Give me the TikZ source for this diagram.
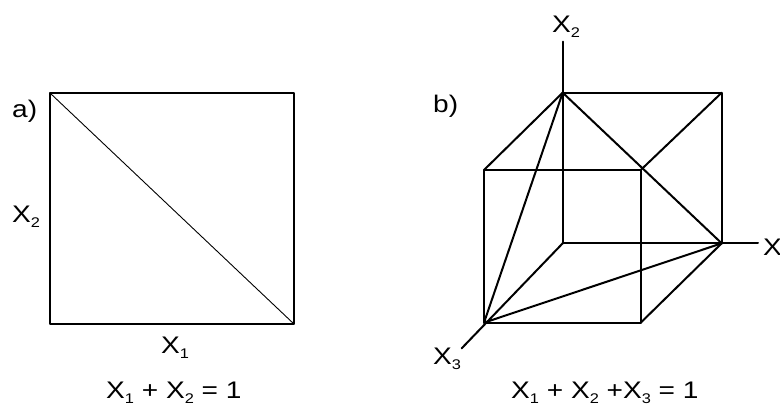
\documentclass[tikz,border=0pt]{standalone}
\usepackage{fontspec}
\setmainfont{Liberation Sans}[FakeStretch=1.17]
\newcommand\lsub[1]{\raisebox{-5pt}{\fontsize{14}{14}\selectfont #1}}
\begin{document}
\begin{tikzpicture}[x=1pt,y=-1pt,
  lbl/.style={font=\fontsize{24}{28}\selectfont, inner sep=0pt, anchor=base west},
  edge/.style={line width=2pt, line cap=round, line join=round},
  thinedge/.style={line width=0.9pt, line cap=round}]
\useasboundingbox (0,0) rectangle (780,405);
% ---- a) square
\coordinate (A) at (50,93);
\coordinate (B) at (294,93);
\coordinate (C) at (294,324);
\coordinate (D) at (50,324);
\draw[edge] (A) -- (B) -- (C) -- (D) -- cycle;
\draw[thinedge] (A) -- (C);
\node[lbl] (la) at (12,117) {a)};
\node[lbl] (x2a) at (12,222) {X\lsub{2}};
\node[lbl] (x1a) at (161,353) {X\lsub{1}};
\node[lbl] (eqa) at (106,398) {X\lsub{1} + X\lsub{2} = 1};
% ---- b) cube
\coordinate (O) at (562.7,243.3);
\coordinate (P2) at (562.7,92.7);
\coordinate (P1) at (721.7,243.3);
\coordinate (Q) at (721.7,92.7);
\coordinate (P3) at (484,322.7);
\coordinate (FTL) at (484,170);
\coordinate (FTR) at (640.7,170);
\coordinate (FBR) at (640.7,322.7);
\coordinate (E2) at (562.7,41.7);
\coordinate (E1) at (758,243.3);
\coordinate (E3) at (461.7,348.3);
% axes
\draw[edge] (O) -- (E2);
\draw[edge] (O) -- (E1);
\draw[edge] (O) -- (E3);
% front face
\draw[edge] (FTL) -- (FTR) -- (FBR) -- (P3) -- cycle;
% back edges
\draw[edge] (P2) -- (Q) -- (P1);
% depth edges
\draw[edge] (P2) -- (FTL);
\draw[edge] (Q) -- (FTR);
\draw[edge] (P1) -- (FBR);
% simplex triangle
\draw[edge] (P2) -- (P1) -- (P3) -- cycle;
\node[lbl] (lb) at (433,112) {b)};
\node[lbl] (x2b) at (552,32) {X\lsub{2}};
\node[lbl] (x1b) at (763,255) {X\lsub{1}};
\node[lbl] (x3b) at (433,364) {X\lsub{3}};
\node[lbl] (eqb) at (511,398) {X\lsub{1} + X\lsub{2} +X\lsub{3} = 1};
\end{tikzpicture}
\end{document}
